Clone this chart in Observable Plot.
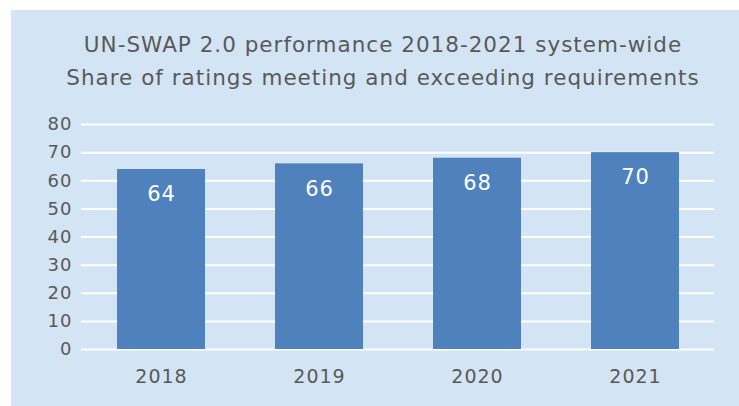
<!DOCTYPE html>
<html>
<head>
<meta charset="utf-8">
<script src="https://cdn.jsdelivr.net/npm/d3@7"></script>
<script src="https://cdn.jsdelivr.net/npm/@observablehq/plot@0.6"></script>
<style>
  html, body { margin: 0; padding: 0; background: #ffffff; }
  #panel { position: absolute; left: 11px; top: 10px; width: 728px; height: 396px; background: #d3e5f5; font-family: "DejaVu Sans", sans-serif; }
  #title { position: absolute; left: 0; top: 18px; width: 744px; text-align: center; color: #595959; font-size: 21.5px; line-height: 33px; letter-spacing: 1px; }
  #chart { position: absolute; left: 0; top: 94px; }
</style>
</head>
<body>
<div id="panel">
  <div id="title">UN-SWAP 2.0 performance 2018-2021 system-wide<br>Share of ratings meeting and exceeding requirements</div>
  <div id="chart"></div>
</div>
<script>
const years = ["2018", "2019", "2020", "2021"];
const shares = [64, 66, 68, 70];
const yTicks = [0, 10, 20, 30, 40, 50, 60, 70, 80];

const data = years.map((y, i) => ({year: y, value: shares[i]}));

const chart = Plot.plot({
  width: 728,
  height: 302,
  marginTop: 20,
  marginBottom: 57,
  marginLeft: 70,
  marginRight: 25,
  style: {background: "transparent", fontFamily: "DejaVu Sans, sans-serif", color: "#595959", letterSpacing: "1px"},
  x: {domain: years, paddingInner: 0.444, paddingOuter: 0.222, label: null},
  y: {domain: [0, 80], label: null},
  marks: [
    Plot.ruleY(yTicks, {stroke: "#ffffff", strokeWidth: 2}),
    Plot.barY(data, {x: "year", y: "value", fill: "#4f81bd"}),
    Plot.text(data, {x: "year", y: "value", text: d => String(d.value), dy: 25, fill: "#ffffff", fontSize: 21}),
    Plot.axisY(yTicks, {tickSize: 0, tickPadding: 9, fontSize: 18, fill: "#595959", label: null}),
    Plot.axisX({tickSize: 0, tickPadding: 20, fontSize: 19, fill: "#595959", label: null})
  ]
});
document.getElementById("chart").appendChild(chart);
</script>
</body>
</html>
